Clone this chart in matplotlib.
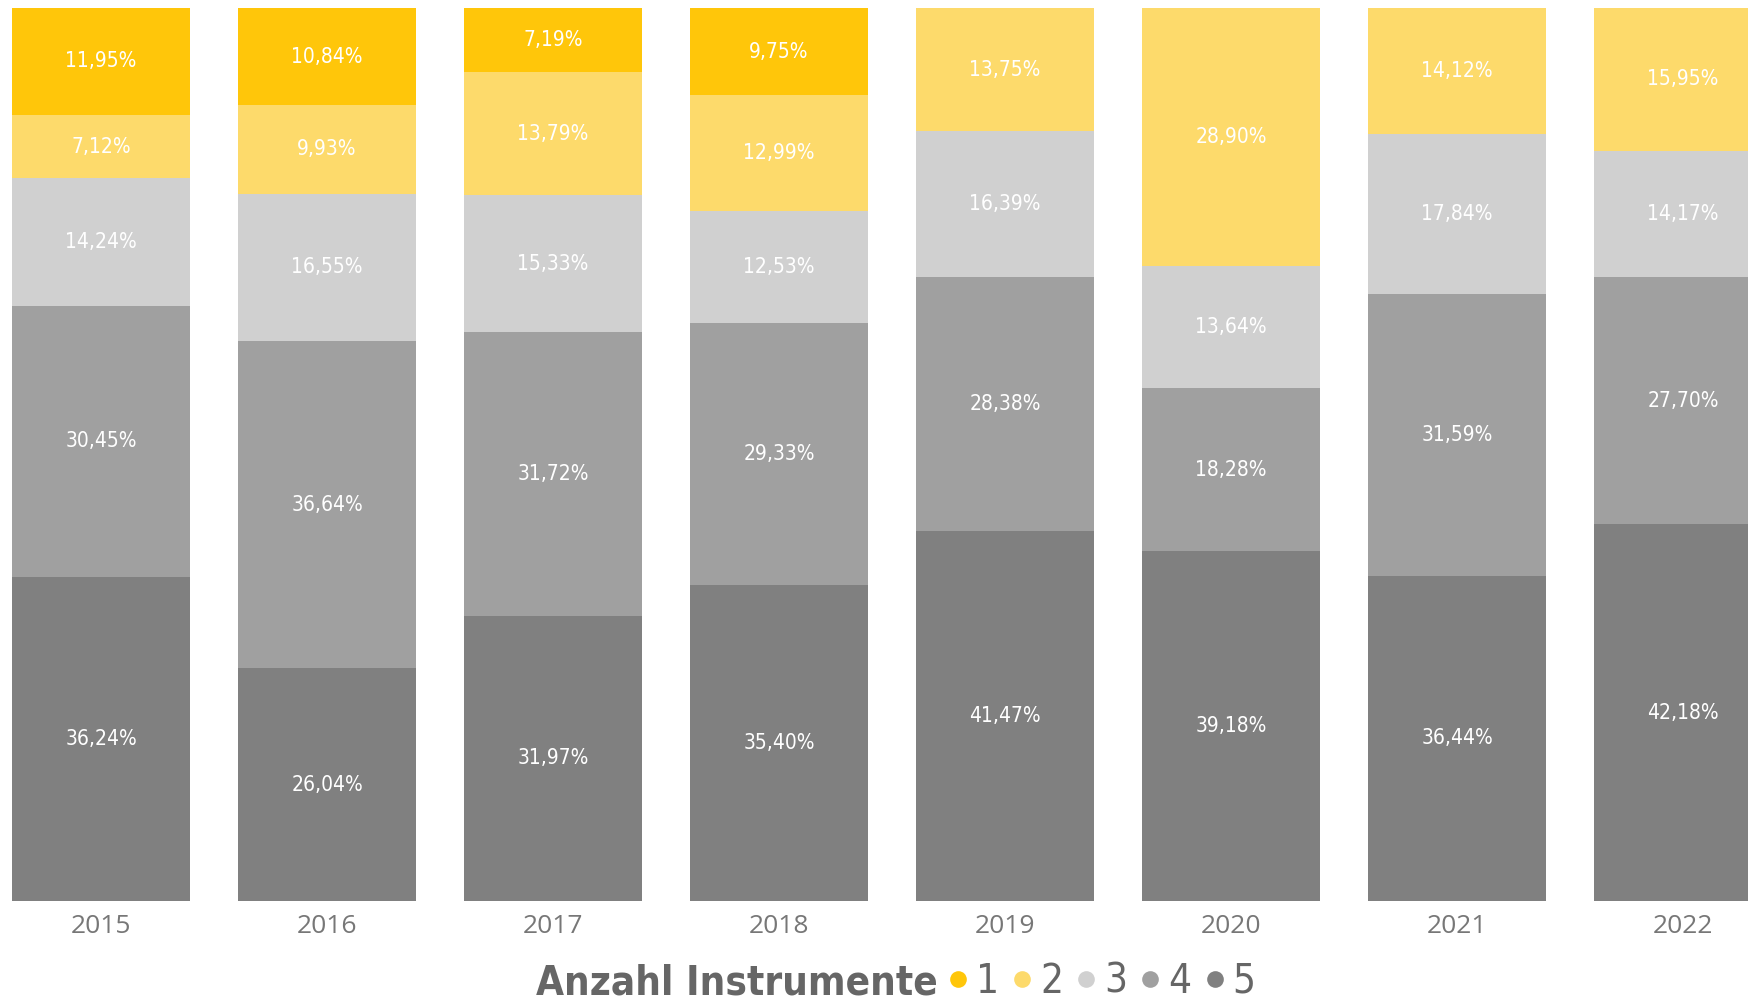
import matplotlib
matplotlib.use("Agg")
import matplotlib.pyplot as plt
from matplotlib import font_manager
from matplotlib.lines import Line2D
import numpy as np

years = ["2015", "2016", "2017", "2018", "2019", "2020", "2021", "2022"]
categories = ["1", "2", "3", "4", "5"]

# share of each number of instruments per year (%)
share_1 = [11.95, 10.84, 7.19, 9.75, 0, 0, 0, 0]
share_2 = [7.12, 9.93, 13.79, 12.99, 13.75, 28.90, 14.12, 15.95]
share_3 = [14.24, 16.55, 15.33, 12.53, 16.39, 13.64, 17.84, 14.17]
share_4 = [30.45, 36.64, 31.72, 29.33, 28.38, 18.28, 31.59, 27.70]
share_5 = [36.24, 26.04, 31.97, 35.40, 41.47, 39.18, 36.44, 42.18]

colors = {"1": "#FFC60A", "2": "#FDDA6B", "3": "#D0D0D0", "4": "#A0A0A0", "5": "#808080"}

# condensed face if there is one
cond = [f for f in font_manager.fontManager.ttflist if "Condensed" in f.fname]
stretch = "condensed" if cond else "normal"

fig = plt.figure(figsize=(17.49, 10.01), dpi=100)
ax = fig.add_axes([0, 0.0999, 1, 0.892])

x = np.arange(len(years))
width = 0.7876
bottom = np.zeros(len(years))
# stack from 5 (bottom) up to 1 (top)
for cat, vals in zip(["5", "4", "3", "2", "1"], [share_5, share_4, share_3, share_2, share_1]):
    vals = np.array(vals)
    ax.bar(x, vals, width, bottom=bottom, color=colors[cat], linewidth=0)
    for xi, b, v in zip(x, bottom, vals):
        if v > 0:
            lbl = f"{v:.2f}%".replace(".", ",")
            ax.text(xi, b + v / 2, lbl, ha="center", va="center", color="white",
                    fontsize=15, family="DejaVu Sans", fontstretch=stretch)
    bottom += vals

ax.set_xlim(-0.447, 7.292)
ax.set_ylim(0, 100)
ax.set_xticks(x)
ax.set_xticklabels(years, fontsize=19, color="#777777", family="Open Sans")
ax.tick_params(axis="x", length=0, pad=9)
ax.set_yticks([])
for s in ax.spines.values():
    s.set_visible(False)

# legend: title + dots
fig.text(0.536, 0.006, "Anzahl Instrumente", fontsize=29, fontweight="bold",
         color="#666666", family="DejaVu Sans", fontstretch=stretch, ha="right", va="baseline")
handles = [Line2D([], [], marker="o", linestyle="", markersize=12,
                  markerfacecolor=colors[c], markeredgewidth=0) for c in categories]
fig.legend(handles, categories, loc="center left", bbox_to_anchor=(0.542, 0.019),
           ncol=5, frameon=False, handlelength=0.5, handletextpad=0.2,
           columnspacing=0.32, prop={"family": "DejaVu Sans", "stretch": stretch, "size": 29},
           labelcolor="#666666", borderpad=0, borderaxespad=0)

fig.savefig("out.png", dpi=100)
